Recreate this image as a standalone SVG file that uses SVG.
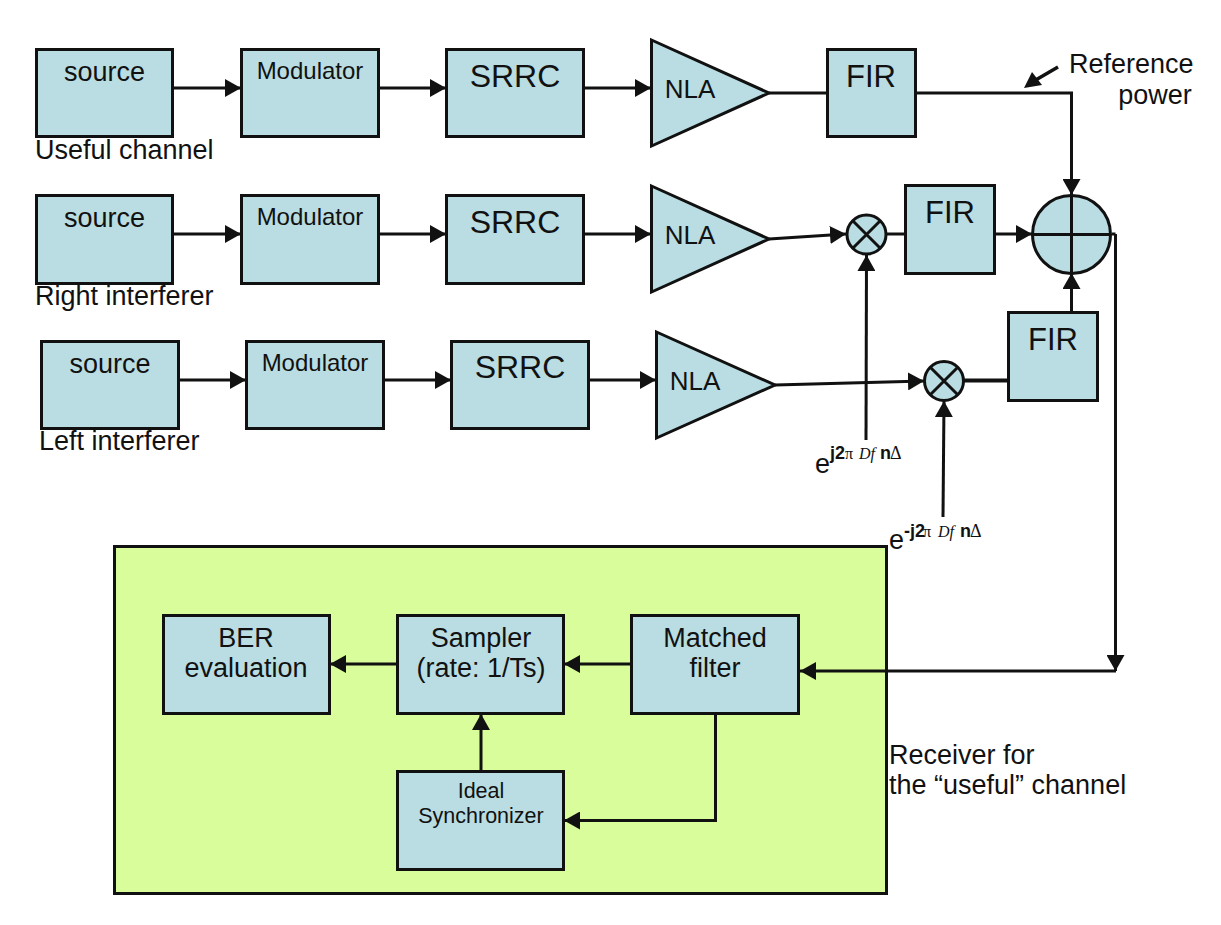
<svg xmlns="http://www.w3.org/2000/svg" width="1221" height="925" viewBox="0 0 1221 925">
<style>
text{font-family:"Liberation Sans",Arial,sans-serif;fill:#111;text-anchor:middle}
.b{fill:#B9DDE2;stroke:#111;stroke-width:3}
.c{fill:none;stroke:#111;stroke-width:3}
.a{marker-end:url(#ah)}
.l{text-anchor:start}
.t27{font-size:27px}.t24{font-size:24px}.t32{font-size:32px}.t31{font-size:31px}.t21{font-size:21.500px}.t26{font-size:26px}
.s{font-size:18px;font-weight:bold}
.g{font-family:"Liberation Serif",serif;font-size:16px;font-weight:normal}
.d{font-style:italic}
.u{font-size:18px}
</style>
<defs><marker id="ah" markerUnits="userSpaceOnUse" markerWidth="18" markerHeight="18" refX="16" refY="9" orient="auto"><path d="M0 0L16 9L0 18Z" fill="#111"/></marker></defs>
<rect width="1221" height="925" fill="#fff"/>
<g id="receiver"><rect x="114.500" y="546.500" width="772" height="347" fill="#DAFD9B" stroke="#111" stroke-width="3"/></g>
<g id="connectors">
<path class="c a" d="M173 88H241"/><path class="c a" d="M379 88H446"/><path class="c a" d="M584 88H651"/>
<path class="c" d="M769 93H827"/><path class="c a" d="M916 93H1071.500V195"/>
<path class="c a" d="M173 234H241"/><path class="c a" d="M379 234H446"/><path class="c a" d="M584 234H651"/>
<path class="c a" d="M769 239L846 234"/><path class="c" d="M887 234H905"/><path class="c a" d="M995 234H1032"/>
<path class="c a" d="M179 380H246"/><path class="c a" d="M384 380H451"/><path class="c a" d="M589 380H656"/>
<path class="c a" d="M775 385L924 381"/><path class="c" d="M964 380.500H1008" style="stroke-width:4"/><path class="c a" d="M1071.500 312V273"/>
<path class="c a" d="M866 440L866.500 255"/><path class="c a" d="M943 517L944 401"/>
<path class="c" d="M1112 234H1115.500"/><path class="c a" d="M1115.500 234V671"/><path class="c a" d="M1116 671H800"/>
<path class="c a" d="M631 664H564"/><path class="c a" d="M397 664H330"/><path class="c a" d="M481 771V714"/>
<path class="c a" d="M715.500 713V820.500H564"/>
<path d="M1058 67L1034 81" fill="none" stroke="#111" stroke-width="3.500"/><path d="M1024 88L1032 72L1042 85Z" fill="#111"/>
</g>
<g id="source1"><rect class="b" x="36.500" y="49.500" width="136" height="87"/><text class="t27" x="104.500" y="81">source</text></g>
<g id="mod1"><rect class="b" x="241.500" y="49.500" width="137" height="87"/><text class="t24" x="310" y="79">Modulator</text></g>
<g id="srrc1"><rect class="b" x="446.500" y="49.500" width="137" height="87"/><text class="t32" x="515" y="87">SRRC</text></g>
<g id="nla1"><path class="b" d="M651.500 40L769 93L651.500 146Z"/><text class="t26" x="690" y="98">NLA</text></g>
<g id="fir1"><rect class="b" x="827.500" y="49.500" width="88" height="87"/><text class="t31" x="871" y="87">FIR</text></g>
<text class="t27 l" x="35" y="159">Useful channel</text>
<g id="source2"><rect class="b" x="36.500" y="195.500" width="136" height="88"/><text class="t27" x="104.500" y="227">source</text></g>
<g id="mod2"><rect class="b" x="241.500" y="195.500" width="137" height="88"/><text class="t24" x="310" y="225">Modulator</text></g>
<g id="srrc2"><rect class="b" x="446.500" y="195.500" width="137" height="88"/><text class="t32" x="515" y="233">SRRC</text></g>
<g id="nla2"><path class="b" d="M651.500 186L769 239L651.500 292Z"/><text class="t26" x="690" y="244">NLA</text></g>
<g id="mix1"><circle class="b" cx="866.500" cy="234.500" r="19.500"/><path class="c" d="M853 221L880 248M880 221L853 248"/></g>
<g id="fir2"><rect class="b" x="905.500" y="185.500" width="89" height="88"/><text class="t31" x="950" y="223">FIR</text></g>
<g id="sum"><circle class="b" cx="1071.500" cy="234.500" r="39"/><path class="c" d="M1071.500 195V274M1032 234.500H1111"/></g>
<text class="t27 l" x="35" y="305">Right interferer</text>
<g id="source3"><rect class="b" x="41.500" y="341.500" width="137" height="87"/><text class="t27" x="110" y="373">source</text></g>
<g id="mod3"><rect class="b" x="246.500" y="341.500" width="137" height="87"/><text class="t24" x="315" y="371">Modulator</text></g>
<g id="srrc3"><rect class="b" x="451.500" y="341.500" width="137" height="87"/><text class="t32" x="520" y="378">SRRC</text></g>
<g id="nla3"><path class="b" d="M656.500 332L775 385L656.500 438Z"/><text class="t26" x="695" y="390">NLA</text></g>
<g id="mix2"><circle class="b" cx="944" cy="381" r="19.500"/><path class="c" d="M930.500 367.500L957.500 394.500M957.500 367.500L930.500 394.500"/></g>
<g id="fir3"><rect class="b" x="1008.500" y="312.500" width="89" height="88"/><text class="t31" x="1053" y="350">FIR</text></g>
<text class="t27 l" x="39" y="450">Left interferer</text>
<text class="t27 l" x="1069" y="73">Reference</text>
<text class="t27" x="1155" y="104">power</text>
<text class="t27 l" x="815" y="473">e</text>
<text class="s l" y="459"><tspan x="830">j2</tspan><tspan class="g" x="845">π</tspan><tspan class="g d" x="859">Df</tspan><tspan x="880">n</tspan><tspan class="g u" x="890">Δ</tspan></text>
<text class="t27 l" x="889" y="549">e</text>
<text class="s l" y="537"><tspan x="904">-j2</tspan><tspan class="g" x="923">π</tspan><tspan class="g d" x="938">Df</tspan><tspan x="960">n</tspan><tspan class="g u" x="970">Δ</tspan></text>
<g id="ber"><rect class="b" x="163.500" y="615.500" width="166" height="98"/><text class="t27" x="246" y="647">BER</text><text class="t27" x="246" y="677">evaluation</text></g>
<g id="sampler"><rect class="b" x="397.500" y="615.500" width="166" height="98"/><text class="t27" x="481" y="647">Sampler</text><text class="t27" x="481" y="677">(rate: 1/Ts)</text></g>
<g id="matched"><rect class="b" x="631.500" y="615.500" width="167" height="98"/><text class="t27" x="715" y="647">Matched</text><text class="t27" x="715" y="677">filter</text></g>
<g id="sync"><rect class="b" x="397.500" y="771.500" width="166" height="98"/><text class="t21" x="481" y="798">Ideal</text><text class="t21" x="481" y="823">Synchronizer</text></g>
<text class="t27 l" x="889" y="764">Receiver for</text>
<text class="t27 l" x="889" y="794">the “useful” channel</text>
</svg>
